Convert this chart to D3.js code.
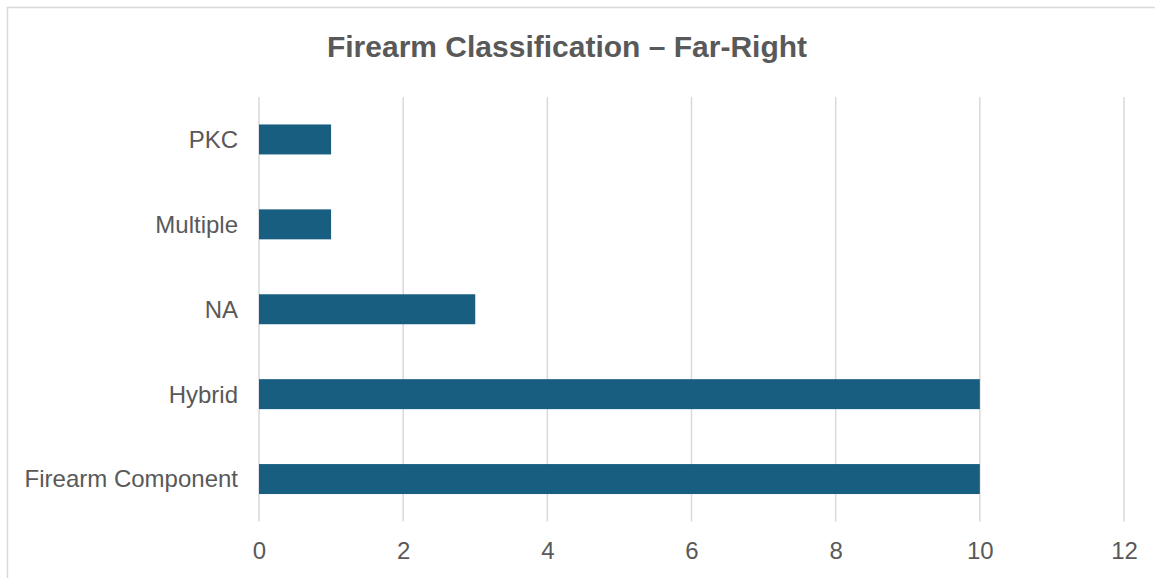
<!DOCTYPE html>
<html>
<head>
<meta charset="utf-8">
<script src="https://cdn.jsdelivr.net/npm/d3@7"></script>
<style>
  html, body { margin: 0; padding: 0; background: #fff; }
  svg { display: block; }
</style>
</head>
<body>
<svg id="chart" width="1155" height="578"></svg>
<script>
// Categories listed top to bottom
const categories = ["PKC", "Multiple", "NA", "Hybrid", "Firearm Component"];
const counts = [1, 1, 3, 10, 10];
const xTicks = [0, 2, 4, 6, 8, 10, 12];
const titleText = "Firearm Classification – Far-Right";

const svg = d3.select("#chart");
const W = 1155, H = 578;
const font = "'Liberation Sans', Arial, sans-serif";
const textColor = "#595959";
const gridColor = "#d9d9d9";
const barColor = "#175e80";

// Chart frame
svg.append("rect")
  .attr("x", 7.5).attr("y", 7.5)
  .attr("width", W + 20).attr("height", H + 20)
  .attr("fill", "#fff")
  .attr("stroke", gridColor)
  .attr("stroke-width", 1.5);

const plot = { left: 259, right: 1124, top: 97, bottom: 521.5 };

const x = d3.scaleLinear().domain([0, 12]).range([plot.left, plot.right]);
const y = d3.scaleBand()
  .domain(categories)
  .range([plot.top, plot.bottom])
  .paddingInner(0.647)
  .paddingOuter(0.3235);

// Title
svg.append("text")
  .attr("x", 567).attr("y", 57)
  .attr("text-anchor", "middle")
  .attr("font-family", font)
  .attr("font-size", 30)
  .attr("font-weight", "bold")
  .attr("fill", textColor)
  .text(titleText);

// Vertical gridlines
svg.append("g")
  .selectAll("line")
  .data(xTicks)
  .join("line")
  .attr("x1", d => x(d)).attr("x2", d => x(d))
  .attr("y1", plot.top).attr("y2", plot.bottom)
  .attr("stroke", gridColor)
  .attr("stroke-width", 1.5);

// Bars
svg.append("g")
  .selectAll("rect")
  .data(categories.map((c, i) => ({ c, v: counts[i] })))
  .join("rect")
  .attr("x", x(0))
  .attr("y", d => y(d.c))
  .attr("width", d => x(d.v) - x(0))
  .attr("height", y.bandwidth())
  .attr("fill", barColor);

// X axis labels
const xAxis = d3.axisBottom(x).tickValues(xTicks).tickSize(0).tickPadding(0);
const gx = svg.append("g")
  .attr("transform", `translate(0, ${plot.bottom})`)
  .call(xAxis);
gx.select(".domain").remove();
gx.selectAll("text")
  .attr("font-family", font)
  .attr("font-size", 24)
  .attr("fill", textColor)
  .attr("dy", null)
  .attr("y", 37);

// Y axis labels
const yAxis = d3.axisLeft(y).tickSize(0).tickPadding(0);
const gy = svg.append("g")
  .attr("transform", `translate(238, 0)`)
  .call(yAxis);
gy.select(".domain").remove();
gy.selectAll("text")
  .attr("font-family", font)
  .attr("font-size", 24)
  .attr("fill", textColor)
  .attr("x", 0)
  .attr("dy", "0.35em");
</script>
</body>
</html>
